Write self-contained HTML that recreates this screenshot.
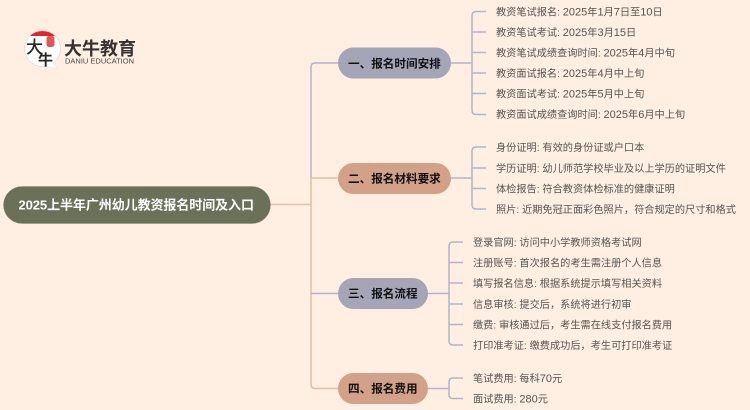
<!DOCTYPE html>
<html><head><meta charset="utf-8"><style>
html,body{margin:0;padding:0;background:#ffeee2}
body{width:750px;height:410px;overflow:hidden;position:relative}
svg{position:absolute;left:0;top:0;filter:blur(.3px)}
.t{font-family:"Liberation Sans","Noto Sans CJK SC",sans-serif}
.l{font-size:10.2px;fill:#555552}
.d{font-size:11px}
.b{font-size:11.6px;font-weight:700;fill:#111}
</style></head><body>
<svg class="t" width="750" height="410" viewBox="0 0 750 410" fill="none">
<g stroke="#e3bda6" stroke-width="1.5">
<path d="M270 204.500H311M338 178H311V384Q311 388.500 315 388.500H338"/>
</g>
<g stroke="#b3b4cb" stroke-width="1.500">
<path d="M311 178V67Q311 63 315 63H338M311 293.500H338"/>
<path d="M451 63H472M486 11.500H476Q472 11.500 472 15.500V110Q472 114.500 476 114.500H486M472 32H486M472 52.500H486M472 73H486M472 93.500H486"/>
<path d="M451 178H472M486 147H476Q472 147 472 151V205Q472 209 476 209H486M472 168H486M472 188.500H486"/>
<path d="M428 293.500H449M463 242H453Q449 242 449 246V341Q449 345 453 345H463M449 262.500H463M449 283H463M449 304H463M449 324.500H463"/>
<path d="M428 388.500H449M463 378H453Q449 378 449 382V395Q449 398.500 453 398.500H463"/>
</g>
<rect x="3.500" y="186.500" width="267" height="37" rx="18.500" fill="#6b7159" stroke="#8b8f7b" stroke-width=".5"/>
<text x="18.500" y="209.300" font-size="13" font-weight="700" fill="#fff" textLength="235.500">2025上半年广州幼儿教资报名时间及入口</text>
<rect x="338" y="47.500" width="113" height="31" rx="15.500" fill="#a5a5b8"/>
<rect x="338" y="163" width="113" height="31" rx="15.500" fill="#d2a187"/>
<rect x="338" y="278" width="90" height="31" rx="15.500" fill="#a5a5b8"/>
<rect x="338" y="373" width="90" height="31" rx="15.500" fill="#d2a187"/>
<text class="b" x="348" y="67.500">一、报名时间安排</text>
<text class="b" x="348" y="182.500">二、报名材料要求</text>
<text class="b" x="348" y="297.500">三、报名流程</text>
<text class="b" x="348" y="392.500">四、报名费用</text>
<g class="l">
<text x="496" y="15.500">教资笔试报名: <tspan class="d">2025</tspan>年<tspan class="d">1</tspan>月<tspan class="d">7</tspan>日至<tspan class="d">10</tspan>日</text>
<text x="496" y="36">教资笔试考试: <tspan class="d">2025</tspan>年<tspan class="d">3</tspan>月<tspan class="d">15</tspan>日</text>
<text x="496" y="56.500">教资笔试成绩查询时间: <tspan class="d">2025</tspan>年<tspan class="d">4</tspan>月中旬</text>
<text x="496" y="77">教资面试报名: <tspan class="d">2025</tspan>年<tspan class="d">4</tspan>月中上旬</text>
<text x="496" y="97.500">教资面试考试: <tspan class="d">2025</tspan>年<tspan class="d">5</tspan>月中上旬</text>
<text x="496" y="118">教资面试成绩查询时间: <tspan class="d">2025</tspan>年<tspan class="d">6</tspan>月中上旬</text>
<text x="496" y="151">身份证明: 有效的身份证或户口本</text>
<text x="496" y="172">学历证明: 幼儿师范学校毕业及以上学历的证明文件</text>
<text x="496" y="192.500">体检报告: 符合教资体检标准的健康证明</text>
<text x="496" y="213">照片: 近期免冠正面彩色照片，符合规定的尺寸和格式</text>
<text x="473" y="246">登录官网: 访问中小学教师资格考试网</text>
<text x="473" y="266.500">注册账号: 首次报名的考生需注册个人信息</text>
<text x="473" y="287">填写报名信息: 根据系统提示填写相关资料</text>
<text x="473" y="308">信息审核: 提交后，系统将进行初审</text>
<text x="473" y="328.500">缴费: 审核通过后，考生需在线支付报名费用</text>
<text x="473" y="349">打印准考证: 缴费成功后，考生可打印准考证</text>
<text x="473" y="382">笔试费用: 每科<tspan class="d">70</tspan>元</text>
<text x="473" y="402.500">面试费用: <tspan class="d">280</tspan>元</text>
</g>
<circle cx="42.500" cy="48.500" r="18" fill="#fff" stroke="#ccc" stroke-width=".5"/>
<path d="M46 66L57.500 68.500L52 62Z" fill="#fff" stroke="#ddd" stroke-width=".4"/>
<path d="M30 36A18 18 0 0 1 55 36Z" fill="#e0262b"/>
<rect x="46.500" y="36" width="8" height="11" rx="2.500" fill="#e2565a"/>
<text x="26" y="53" font-size="17" fill="#2b2624" font-family="Liberation Sans,Noto Sans CJK SC,sans-serif" font-weight="500">大</text>
<text x="38" y="65" font-size="15" fill="#2b2624" font-family="Liberation Sans,Noto Sans CJK SC,sans-serif" font-weight="700">牛</text>
<text x="64" y="55" font-size="18" font-weight="700" fill="#353230">大牛教育</text>
<text x="65" y="63.500" font-size="7" fill="#4a4745" textLength="69" lengthAdjust="spacingAndGlyphs">DANIU EDUCATION</text>
</svg>
</body></html>
